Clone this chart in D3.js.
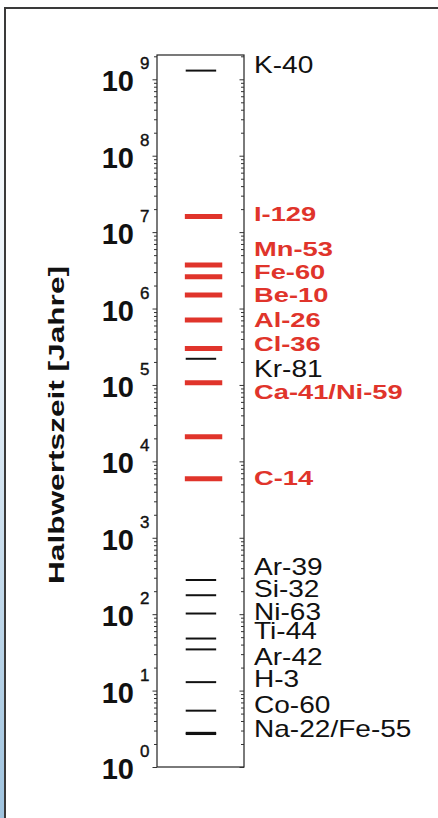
<!DOCTYPE html>
<html>
<head>
<meta charset="utf-8">
<script src="https://cdn.jsdelivr.net/npm/d3@7"></script>
<style>
  body { margin: 0; background: #fff; }
  svg { display: block; font-family: "Liberation Sans", Arial, sans-serif; }
</style>
</head>
<body>
<svg id="chart" width="438" height="818"></svg>
<script>
// half-lives in years
const redValues = [1.6e7, 3.7e6, 2.6e6, 1.5e6, 7.1e5, 3.0e5, 1.07e5, 2.1e4, 5.9e3];
const blackValues = [1.3e9, 2.2e5, 280, 177, 102, 48, 34.6, 12.9, 5.46, 2.7, 2.8];

// label texts and where they sit on the axis
const redLabels = ["I-129", "Mn-53", "Fe-60", "Be-10", "Al-26", "Cl-36", "Ca-41/Ni-59", "C-14"];
const redLabelAt = [1.76e7, 6.2e6, 3.06e6, 1.55e6, 7.2e5, 3.5e5, 8.2e4, 6.07e3];
const blackLabels = ["K-40", "Kr-81", "Ar-39", "Si-32", "Ni-63", "Ti-44", "Ar-42", "H-3", "Co-60", "Na-22/Fe-55"];
const blackLabelAt = [1.57e9, 1.64e5, 421, 217, 108, 60, 27.9, 14.2, 6.48, 3.19];

const decades = [0, 1, 2, 3, 4, 5, 6, 7, 8, 9];
const yTitle = "Halbwertszeit [Jahre]";

const red = "#e0342b";
const svg = d3.select("#chart");

// outer frame + light blue edge on the left
const defs = svg.append("defs");
const grad = defs.append("linearGradient").attr("id", "edge")
    .attr("x1", 0).attr("y1", 0).attr("x2", 0).attr("y2", 1);
grad.append("stop").attr("offset", "0%").attr("stop-color", "#ffffff");
grad.append("stop").attr("offset", "45%").attr("stop-color", "#e4eef6");
grad.append("stop").attr("offset", "100%").attr("stop-color", "#9fc3de");
svg.append("rect").attr("x", 0).attr("y", 0).attr("width", 5).attr("height", 818).attr("fill", "url(#edge)");
svg.append("rect").attr("x", 5).attr("y", 8).attr("width", 440).attr("height", 820)
    .attr("fill", "#fff").attr("stroke", "#3a3a3a").attr("stroke-width", 2);

const box = { left: 157, right: 244, top: 55, bottom: 767 };

const y = d3.scaleLog().domain([1, 2.08e9]).range([box.bottom, box.top]);
const x = d3.scaleLinear().domain([0, 1]).range([box.left, box.right]);

// plot frame
svg.append("rect")
    .attr("x", box.left).attr("y", box.top)
    .attr("width", box.right - box.left).attr("height", box.bottom - box.top)
    .attr("fill", "#fff").attr("stroke", "#222").attr("stroke-width", 1.2);

// ticks: left outward, right inward
const tickVals = y.ticks().filter(t => t >= 1 && t <= 2.08e9);
const isMajor = t => Math.abs(Math.log10(t) - Math.round(Math.log10(t))) < 1e-9;

const leftAxis = d3.axisLeft(y).tickValues(tickVals).tickFormat("").tickSizeOuter(0);
const gl = svg.append("g").attr("transform", `translate(${box.left},0)`).call(leftAxis);
gl.select(".domain").remove();
gl.selectAll(".tick line").attr("x2", d => isMajor(d) ? -4.5 : -3).attr("stroke", "#333");

const rightAxis = d3.axisLeft(y).tickValues(tickVals).tickFormat("").tickSizeOuter(0);
const gr = svg.append("g").attr("transform", `translate(${box.right},0)`).call(rightAxis);
gr.select(".domain").remove();
gr.selectAll(".tick line").attr("x2", d => isMajor(d) ? -4.5 : -3).attr("stroke", "#333");

// decade labels 10^n
const dl = svg.append("g");
dl.selectAll("text.base").data(decades).enter().append("text")
    .attr("class", "base")
    .attr("x", 134).attr("y", d => y(Math.pow(10, d)) + 12)
    .attr("text-anchor", "end")
    .attr("font-size", 29).attr("font-weight", "bold").attr("fill", "#111")
    .text("10");
dl.selectAll("text.exp").data(decades).enter().append("text")
    .attr("class", "exp")
    .attr("x", 140).attr("y", d => y(Math.pow(10, d)) - 10)
    .attr("text-anchor", "start")
    .attr("font-size", 17).attr("fill", "#111")
    .attr("stroke", "#111").attr("stroke-width", 0.4)
    .text(d => d);

// axis title
svg.append("text")
    .attr("transform", "translate(64,425) rotate(-90)")
    .attr("text-anchor", "middle")
    .attr("font-size", 22).attr("font-weight", "bold").attr("fill", "#111")
    .attr("textLength", 318).attr("lengthAdjust", "spacingAndGlyphs")
    .text(yTitle);

// half-life marks
svg.append("g").selectAll("line").data(redValues).enter().append("line")
    .attr("x1", x(0.32)).attr("x2", x(0.75))
    .attr("y1", d => y(d)).attr("y2", d => y(d))
    .attr("stroke", red).attr("stroke-width", 5);

svg.append("g").selectAll("line").data(blackValues).enter().append("line")
    .attr("x1", x(0.33)).attr("x2", x(0.68))
    .attr("y1", d => y(d)).attr("y2", d => y(d))
    .attr("stroke", "#111").attr("stroke-width", 2);

// labels
svg.append("g").selectAll("text").data(redLabels).enter().append("text")
    .attr("transform", (d, i) => `translate(254,${y(redLabelAt[i])}) scale(1.3,1)`)
    .attr("dy", "0.36em")
    .attr("font-size", 21).attr("font-weight", "bold").attr("fill", red)
    .text(d => d);

svg.append("g").selectAll("text").data(blackLabels).enter().append("text")
    .attr("transform", (d, i) => `translate(254,${y(blackLabelAt[i])}) scale(1.22,1)`)
    .attr("dy", "0.36em")
    .attr("font-size", 23).attr("fill", "#111")
    .text(d => d);
</script>
</body>
</html>
